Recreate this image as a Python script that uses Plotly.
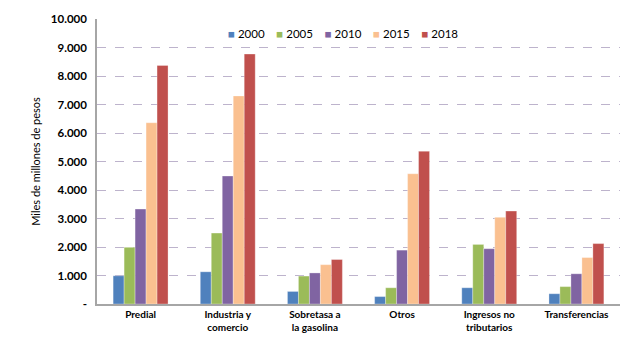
import plotly.graph_objects as go

categories = ["Predial", "Industria y<br>comercio", "Sobretasa a<br>la gasolina", "Otros", "Ingresos no<br>tributarios", "Transferencias"]
years = ["2000", "2005", "2010", "2015", "2018"]
v2000 = [990, 1130, 440, 260, 570, 360]
v2005 = [1990, 2490, 980, 570, 2090, 610]
v2010 = [3330, 4490, 1090, 1890, 1940, 1060]
v2015 = [6360, 7300, 1380, 4570, 3040, 1630]
v2018 = [8370, 8770, 1560, 5360, 3260, 2120]
series = [v2000, v2005, v2010, v2015, v2018]
colors = ["#4F81BD", "#9BBB59", "#8064A2", "#FAC090", "#C0504D"]
tick_vals = [0, 1000, 2000, 3000, 4000, 5000, 6000, 7000, 8000, 9000, 10000]
tick_text = ["-", "1.000", "2.000", "3.000", "4.000", "5.000", "6.000", "7.000", "8.000", "9.000", "10.000"]

fig = go.Figure()
for y, vals, c in zip(years, series, colors):
    fig.add_trace(go.Bar(name=y, x=categories, y=vals, showlegend=False,
                         marker=dict(color=c, line=dict(color="rgba(255,255,255,0.6)", width=0.5))))

# compact legend rendered as text with coloured square glyphs
legend_text = "\u00a0\u00a0\u00a0\u00a0".join(
    f'<span style="color:{c}">■</span>\u00a0{y}' for y, c in zip(years, colors)
)
fig.add_annotation(text=legend_text, xref="paper", yref="paper", x=0.47, y=0.948,
                   xanchor="center", yanchor="middle", showarrow=False,
                   font=dict(size=11.5, color="#000"))

font_family = "Lato, 'Open Sans', sans-serif"
fig.update_layout(
    width=640, height=345,
    margin=dict(l=97, r=20, t=15, b=40),
    paper_bgcolor="white", plot_bgcolor="white",
    barmode="group", bargap=0.37, bargroupgap=0,
    font=dict(family=font_family, size=11, color="#000"),
    xaxis=dict(showline=True, linecolor="#A6A6A6", linewidth=1.5, ticks="",
               tickfont=dict(size=10, family=font_family, weight="bold"), showgrid=False),
    yaxis=dict(range=[0, 10000], tickvals=tick_vals, ticktext=tick_text,
               showline=True, linecolor="#A6A6A6", linewidth=1.5,
               showgrid=True, gridcolor="#BDB3CC", griddash="dash", gridwidth=1,
               tickfont=dict(size=11.5, family=font_family, weight="bold"),
               ticklabelstandoff=6,
               title=dict(text="Miles de millones de pesos", font=dict(size=11), standoff=8),
               zeroline=False, ticks=""),
)
fig.write_html("out.html")
